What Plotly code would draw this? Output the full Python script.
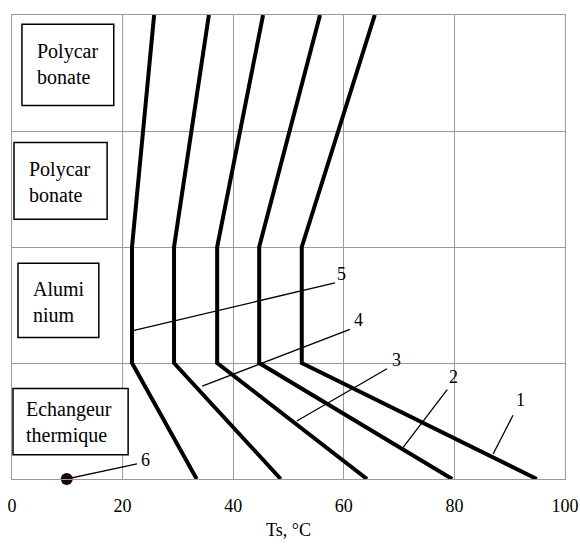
import plotly.graph_objects as go

# Curves: x position (Ts, °C) at layer levels y = 0, 1, 2, 3, 4
levels = [0, 1, 2, 3, 4]
curve1 = [94.9, 52.4, 52.4, 59.0, 65.6]
curve2 = [79.6, 44.7, 44.7, 50.2, 55.7]
curve3 = [64.2, 37.1, 37.1, 41.2, 45.4]
curve4 = [48.6, 29.3, 29.3, 32.5, 35.6]
curve5 = [33.4, 21.7, 21.7, 23.7, 25.7]
curves = [curve1, curve2, curve3, curve4, curve5]

# Leader lines for labels 1..6: (x_start, y_start) -> (x_end, y_end)
label_names = ["1", "2", "3", "4", "5", "6"]
leader_x0 = [90.6, 78.7, 67.8, 61.1, 58.4, 22.6]
leader_y0 = [0.55, 0.77, 0.95, 1.29, 1.69, 0.13]
leader_x1 = [87.0, 70.7, 51.5, 34.4, 21.9, 9.9]
leader_y1 = [0.216, 0.27, 0.50, 0.80, 1.28, 0.0]
label_x = [91.9, 79.9, 69.6, 62.6, 59.6, 24.2]
label_y = [0.68, 0.88, 1.03, 1.37, 1.77, 0.16]

# Point 6
point_x = [9.9]
point_y = [0.0]

# Layer labels
layer_names = ["Polycar<br>bonate", "Polycar<br>bonate", "Alumi<br>nium", "Echangeur<br>thermique"]

x_ticks = [0, 20, 40, 60, 80, 100]
x_title = "Ts, °C"

# ---- layout-only placement of the layer boxes (axis units) ----
box_x0 = [1.8, 0.36, 1.08, 0.18]
box_x1 = [18.4, 17.2, 15.7, 21.0]
box_y0 = [3.22, 2.24, 1.22, 0.21]
box_y1 = [3.92, 2.90, 1.86, 0.78]
text_x = [4.2, 2.8, 3.5, 2.2]
text_y = [3.58, 2.56, 1.53, 0.49]

FONT = "Liberation Serif"

fig = go.Figure()

for c in curves:
    fig.add_trace(go.Scatter(x=c, y=levels, mode="lines",
                             line=dict(color="black", width=4),
                             showlegend=False, hoverinfo="skip"))

for i in range(len(label_names)):
    fig.add_trace(go.Scatter(x=[leader_x0[i], leader_x1[i]], y=[leader_y0[i], leader_y1[i]],
                             mode="lines", line=dict(color="black", width=1.3),
                             showlegend=False, hoverinfo="skip"))

fig.add_trace(go.Scatter(x=point_x, y=point_y, mode="markers",
                         marker=dict(color="#1a0505", size=12),
                         showlegend=False, hoverinfo="skip", cliponaxis=False))

shapes = []
for i in range(len(layer_names)):
    shapes.append(dict(type="rect", xref="x", yref="y",
                       x0=box_x0[i], x1=box_x1[i], y0=box_y0[i], y1=box_y1[i],
                       line=dict(color="black", width=1.5), fillcolor="white", layer="above"))

annotations = []
for i, t in enumerate(label_names):
    annotations.append(dict(x=label_x[i], y=label_y[i], xref="x", yref="y", text=t,
                            showarrow=False, font=dict(family=FONT, size=18, color="black")))
for i, t in enumerate(layer_names):
    annotations.append(dict(x=text_x[i], y=text_y[i], xref="x", yref="y", text=t,
                            showarrow=False, align="left", xanchor="left", yanchor="middle",
                            font=dict(family=FONT, size=20, color="black")))

fig.update_layout(
    width=580, height=544,
    margin=dict(l=12, r=15, t=15, b=65),
    paper_bgcolor="white", plot_bgcolor="white",
    annotations=annotations, shapes=shapes,
    font=dict(family=FONT, size=18, color="black"),
)
fig.update_xaxes(range=[0, 100], tickvals=x_ticks, showgrid=True, gridcolor="#9a9a9a", gridwidth=1.3,
                 zeroline=False, showline=True, mirror=True, linecolor="#9a9a9a", linewidth=1.3,
                 ticks="outside", ticklen=10, tickcolor="rgba(0,0,0,0)", automargin=False,
                 tickfont=dict(family=FONT, size=18, color="black"),
                 title=dict(text=x_title, standoff=8, font=dict(family=FONT, size=18, color="black")))
fig.update_yaxes(range=[0, 4], tickvals=[0, 1, 2, 3, 4], showticklabels=False, showgrid=True,
                 gridcolor="#9a9a9a", gridwidth=1.3, zeroline=False, showline=True, mirror=True,
                 linecolor="#9a9a9a", linewidth=1.3, ticks="", automargin=False)

fig.write_html("out.html")
